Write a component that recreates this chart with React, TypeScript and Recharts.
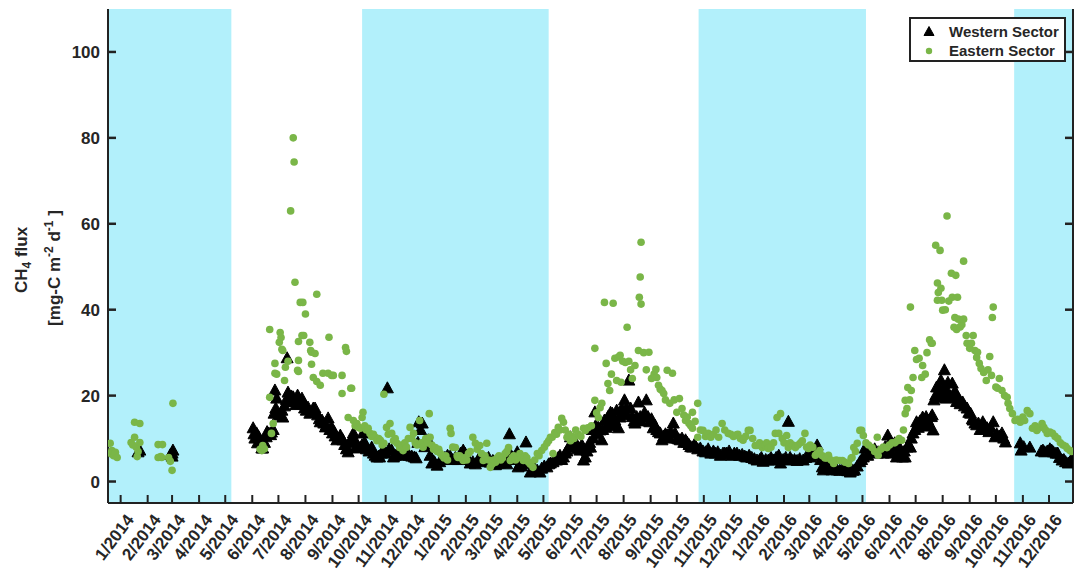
import React from "react";
import {
  ScatterChart,
  Scatter,
  XAxis,
  YAxis,
  ReferenceArea,
  Legend,
} from "recharts";

// day index = days since 1 Jan 2014
const dayIndex = (y: number, m: number, d: number) =>
  Math.round((Date.UTC(y, m - 1, d) - Date.UTC(2014, 0, 1)) / 86400000);

const tickYears = [2014, 2015, 2016];
const tickMonths = [1, 2, 3, 4, 5, 6, 7, 8, 9, 10, 11, 12];
const monthTickDays = tickYears.flatMap((y) => tickMonths.map((m) => dayIndex(y, m, 1)));
const monthTickLabels = tickYears.flatMap((y) => tickMonths.map((m) => `${m}/${y}`));
const fluxTicks = [0, 20, 40, 60, 80, 100];

const xDomain: [number, number] = [-14.5, 1092.5];
const yDomain: [number, number] = [-5, 110];

// frozen (cyan) periods
const winterStart = [-14.5, dayIndex(2014, 10, 5), dayIndex(2015, 10, 26), dayIndex(2016, 10, 22)];
const winterEnd = [dayIndex(2014, 5, 8), dayIndex(2015, 5, 7), dayIndex(2016, 5, 5), 1092.5];

// Western sector [day, flux]
const westernWinter2014: [number, number][] = [
  [20, 6.8], [22, 7.2], [57, 6.2], [59, 6.5], [59, 5.8], [60, 7.2],
];
const westernSummer2014: [number, number][] = [
  [152, 12.4], [153, 11], [154, 10], [156, 11.2], [157, 8.9], [158, 10.5], [160, 9.5], [162, 7.7],
  [163, 7.7], [165, 9], [167, 10.3], [168, 11.5], [170, 11.2], [172, 10.8], [173, 11.4], [175, 12],
  [176, 15.8], [177, 21.2], [178, 17], [179, 19.3], [181, 15.4], [183, 15.4], [185, 16.5], [186, 14.9],
  [188, 17.5], [190, 19], [191, 28.7], [192, 20.7], [194, 18.5], [196, 19.8], [198, 19.6], [200, 18.5],
  [201, 17.8], [203, 20], [205, 19], [206, 18], [208, 19.3], [210, 18], [211, 17], [213, 16.5],
  [215, 17.2], [217, 15.8], [219, 16], [221, 17], [223, 17], [224, 16], [226, 15.4], [228, 14.5],
  [229, 13.8], [231, 14.2], [233, 13.5], [235, 12.6], [236, 13], [238, 14.7], [240, 12], [242, 12.6],
  [243, 11.2], [245, 11.5], [246, 10.5], [248, 9.6], [250, 10], [252, 10.7], [254, 9.8], [255, 9.6],
  [257, 8.5], [259, 7.5], [260, 7.7], [261, 6.8], [263, 9], [265, 10], [267, 11.2], [269, 9.5],
  [270, 8], [272, 7.7],
];
const westernWinter2015: [number, number][] = [
  [275, 7.9], [277, 8.5], [278, 11.2], [280, 9], [282, 7.5], [285, 7], [288, 7.9], [290, 6.5],
  [292, 6], [294, 5.6], [296, 5.8], [297, 5.6], [299, 6.5], [301, 7], [304, 6.5], [306, 21.7],
  [308, 7.5], [311, 7.2], [313, 5.6], [315, 6], [318, 6.5], [320, 6.8], [323, 6], [325, 6.2],
  [328, 6.5], [331, 6], [334, 5.8], [337, 5.6], [339, 5.4], [341, 9], [342, 13.8], [344, 12],
  [346, 13.5], [349, 8], [351, 8.5], [353, 9.6], [355, 6], [357, 4.2], [360, 4.5], [363, 3.7],
  [366, 4.5], [369, 5], [372, 5.5], [375, 6], [378, 5.8], [381, 5], [384, 5.5], [387, 5],
  [390, 6.5], [393, 7.2], [395, 6.5], [397, 5.6], [399, 5], [401, 4.2], [404, 4.5], [407, 4],
  [410, 5], [413, 5.5], [416, 4.8], [419, 4.5], [422, 5.5], [424, 4.4], [427, 4.8], [430, 3.8],
  [433, 4.2], [435, 4.2], [438, 4.5], [441, 5], [443, 4], [446, 11], [448, 6], [450, 5.5],
  [453, 5], [455, 6.8], [456, 3.3], [458, 4], [460, 3.5], [462, 5], [465, 9.1], [467, 4],
  [470, 2.1], [472, 2.5], [475, 3], [478, 2.5], [481, 2.1], [483, 3], [486, 3.5], [489, 3.3],
  [491, 4], [493, 4.2],
];
const westernSummer2015: [number, number][] = [
  [496, 4.5], [498, 5], [500, 4.9], [502, 5.5], [504, 6], [506, 5], [508, 5.6], [510, 6.5],
  [512, 7], [514, 8], [516, 10.3], [518, 7.9], [520, 8.5], [522, 9], [524, 7.5], [527, 7.2],
  [529, 8.5], [531, 4.9], [533, 5.6], [535, 7], [536, 7.9], [538, 9], [539, 7.9], [541, 12],
  [542, 10], [544, 16.1], [545, 13], [547, 11], [548, 12.5], [550, 11.9], [552, 9.6], [553, 12],
  [555, 14.2], [557, 12.5], [559, 15], [561, 13], [562, 16], [564, 15.8], [566, 13], [567, 14.2],
  [569, 16.5], [571, 12.4], [573, 14.9], [575, 17], [576, 16], [578, 18.9], [580, 17], [581, 15.5],
  [583, 23.5], [585, 17], [587, 15], [589, 14], [590, 13.5], [592, 15], [594, 18.4], [596, 15],
  [597, 14], [599, 14.9], [601, 16], [603, 18.9], [605, 15], [607, 13.8], [609, 14.5], [611, 12.4],
  [613, 13], [615, 12], [617, 11.5], [619, 11.2], [621, 9.6], [623, 10.5], [625, 11], [627, 10.7],
  [629, 10], [631, 11.5], [634, 13.5], [636, 11.2], [638, 10], [640, 9.8], [642, 9.6], [644, 10],
  [646, 9], [648, 9.6], [650, 9], [652, 8.5], [654, 8], [656, 7.9], [658, 8.5], [660, 8],
  [662, 7.5], [665, 7.7],
];
const westernWinter2016: [number, number][] = [
  [668, 7], [671, 6.8], [674, 7.5], [677, 6.5], [680, 7], [682, 6.5], [685, 6.8], [688, 6],
  [691, 6.5], [693, 6.5], [695, 6.5], [698, 7], [701, 6], [704, 6.5], [707, 6.5], [710, 6],
  [713, 6.2], [716, 5.8], [718, 5.6], [721, 6], [724, 5.5], [727, 5.2], [730, 4.9], [733, 5],
  [735, 5.5], [737, 4.6], [740, 5], [743, 4.9], [746, 5.5], [749, 4.9], [752, 5.5], [755, 6],
  [757, 4.2], [760, 5], [763, 5.5], [766, 13.9], [768, 5.5], [770, 4.9], [773, 5], [776, 4.8],
  [779, 5.2], [783, 4.9], [786, 5.5], [789, 6], [791, 5.6], [794, 6.5], [797, 7.5], [799, 8.4],
  [801, 6], [803, 5], [805, 3.3], [806, 2.6], [808, 4], [810, 3.5], [812, 3], [814, 2.8],
  [816, 2.6], [819, 2.8], [822, 2.6], [825, 2.5], [828, 2.7], [831, 2.6], [834, 2.4], [837, 2.1],
  [840, 2.5], [842, 2.6], [845, 3.5], [848, 4.5], [850, 5], [852, 5.6], [854, 7.7], [857, 6],
  [860, 7.2], [863, 6.8], [865, 7.5], [868, 6.5], [869, 6.8],
];
const westernSummer2016: [number, number][] = [
  [872, 7], [875, 6.5], [877, 8], [879, 7.5], [880, 10.7], [882, 9], [884, 6.5], [886, 8],
  [888, 8.9], [890, 5.6], [892, 6.5], [894, 7.7], [896, 6], [897, 5.6], [899, 7], [900, 5.6],
  [902, 7.9], [904, 8.5], [906, 7.9], [907, 10], [909, 11.2], [911, 12], [913, 13.8], [915, 12.5],
  [917, 14], [919, 13], [920, 14.9], [922, 13.5], [924, 15], [926, 14.2], [928, 12.8], [930, 15],
  [931, 15.4], [932, 11.9], [933, 18.9], [935, 20], [936, 21.9], [938, 19.5], [939, 22], [941, 23.5],
  [943, 20], [944, 21.5], [945, 25.9], [946, 21.9], [947, 19.3], [949, 23], [950, 19.6], [952, 19.6],
  [954, 22.8], [956, 20], [957, 21], [959, 18.5], [961, 19.3], [963, 18], [964, 18.4], [966, 18.4],
  [968, 17.5], [971, 17], [973, 16], [975, 15.8], [977, 14.5], [978, 14.2], [980, 13.5], [982, 13.1],
  [984, 13.5], [986, 12], [989, 13.8], [991, 13], [994, 12.4], [996, 11.5], [998, 12.5], [1001, 13.8],
  [1003, 10.3], [1005, 11], [1008, 10.5], [1011, 11.2], [1013, 10], [1015, 9.1], [1032, 8.9], [1033, 7.2],
  [1036, 8], [1043, 7.9], [1056, 7], [1058, 7.2], [1060, 6.8], [1063, 7], [1066, 7.5], [1068, 7.2],
  [1070, 6.8], [1073, 6.5], [1075, 6.5], [1077, 5.5], [1080, 4.9], [1082, 5], [1084, 4.5], [1087, 4.2],
  [1089, 4.5], [1091, 5],
];

// Eastern sector [day, flux]
const easternWinter2014: [number, number][] = [
  [-12, 8.9], [-11, 6.5], [-10, 7.2], [-8, 6], [-6, 6.8], [-4, 5.6], [12, 9.1], [14, 8.5],
  [16, 10.3], [16, 13.8], [18, 8], [19, 5.8], [20, 7], [22, 9.1], [22, 13.5], [43, 8.6],
  [48, 8.6], [43, 5.6], [46, 5.8], [47, 5.6], [55, 5.6], [57, 4.7], [59, 2.6], [60, 18.2],
];
const easternSummer2014: [number, number][] = [
  [160, 7.5], [162, 7.2], [163, 8.4], [165, 7.6], [171, 19.6], [171, 35.4], [173, 11.2], [175, 13.5],
  [177, 27.5], [177, 25.2], [179, 25], [182, 32.4], [183, 34.7], [184, 33.5], [185, 30.8], [186, 30.5],
  [188, 23.5], [189, 26.6], [192, 28], [195, 63], [198, 80], [199, 74.4], [200, 46.4], [203, 25.9],
  [204, 28.2], [204, 32.6], [204, 25.6], [206, 41.7], [208, 34], [209, 41.7], [210, 34], [212, 39],
  [217, 32.4], [218, 30.5], [219, 27.3], [219, 30.1], [221, 24.2], [223, 29.8], [225, 23.3], [225, 43.6],
  [229, 22.4], [232, 25.2], [238, 25.2], [239, 33.6], [242, 24.7], [244, 24.7], [254, 24.7], [254, 20.5],
  [258, 31.2], [259, 30.3], [261, 14.9], [264, 21.7], [265, 21.7], [267, 14.2], [269, 13], [271, 13.5],
];
const easternWinter2015: [number, number][] = [
  [273, 12.6], [275, 12.4], [277, 14.9], [278, 16.1], [280, 13], [282, 12], [284, 12.4], [286, 11.2],
  [288, 10.5], [290, 11], [292, 10.3], [294, 9.5], [296, 10], [298, 9.6], [300, 8.5], [302, 20.3],
  [302, 8.9], [305, 12.6], [307, 11], [309, 13.5], [311, 11.2], [313, 9.5], [315, 10], [317, 8.9],
  [320, 7.9], [322, 8.5], [324, 7.2], [326, 9], [328, 8], [330, 10], [332, 12.6], [334, 10],
  [336, 11.2], [338, 9], [340, 8.5], [343, 14.2], [345, 9], [347, 8], [350, 10], [352, 9],
  [354, 15.8], [355, 10.3], [357, 8.5], [359, 7.5], [361, 7.9], [363, 7], [365, 7.5], [367, 6.5],
  [369, 6], [371, 5.5], [373, 6], [375, 5], [378, 12.4], [379, 11.2], [381, 8], [384, 7.9],
  [386, 6], [387, 5.6], [389, 6], [391, 5.5], [393, 4.9], [395, 5.5], [397, 5], [399, 6.5],
  [401, 7], [404, 10.3], [407, 8.9], [409, 7.5], [412, 8.4], [414, 6.5], [416, 4.9], [418, 6],
  [420, 8.9], [422, 5], [424, 3.3], [426, 4], [428, 5], [430, 4.5], [432, 5.5], [434, 6],
  [436, 5], [438, 5.5], [441, 6.5], [443, 7], [445, 7.9], [447, 4.9], [449, 5.5], [451, 6],
  [453, 5], [456, 5.6], [458, 6.5], [460, 5.5], [462, 4.9], [464, 6], [466, 5.5], [468, 4.5],
  [470, 4], [473, 3.3], [475, 5], [478, 6.5], [480, 6], [483, 7.2], [486, 8], [489, 8.9],
  [491, 9.5], [493, 10.3], [495, 10.3], [496, 6.5], [498, 11.4], [500, 11], [502, 12.6], [504, 12],
  [506, 14.7], [508, 13.8],
];
const easternSummer2015: [number, number][] = [
  [510, 12], [512, 10.3], [514, 11], [516, 9.5], [518, 10.5], [520, 10], [522, 12], [525, 11],
  [528, 10.5], [531, 12.4], [533, 11.9], [536, 12.5], [540, 13], [544, 31], [544, 18.9], [546, 16],
  [548, 14.9], [550, 17.2], [552, 18.2], [555, 41.7], [557, 27.5], [559, 22.8], [561, 21.2], [563, 25],
  [565, 41.5], [567, 28.7], [569, 23.5], [571, 29], [573, 29.4], [574, 23.1], [576, 28], [579, 27.7],
  [581, 35.9], [583, 28], [585, 26], [587, 24], [590, 27], [594, 30.5], [595, 42.9], [596, 47.6],
  [597, 55.7], [597, 41.3], [600, 30], [603, 26], [606, 30.1], [609, 24], [612, 25], [614, 26.1],
  [615, 24.2], [617, 22.4], [619, 21.5], [621, 21.2], [623, 20.5], [625, 19], [627, 25.9], [630, 18.2],
  [633, 25.2], [635, 19], [638, 16.1], [641, 19.3], [644, 17], [646, 15.5], [648, 14.2], [650, 15],
  [652, 13.5], [654, 13], [656, 16.1], [656, 12.4], [659, 14], [662, 18.2], [662, 10.3], [665, 12],
];
const easternWinter2016: [number, number][] = [
  [668, 11.9], [671, 10.5], [674, 11.2], [677, 10.3], [680, 11], [683, 12], [686, 10.3], [690, 13.5],
  [693, 12], [697, 11.2], [700, 11], [703, 10.5], [706, 10.8], [708, 11], [711, 10], [714, 9.6],
  [717, 10.5], [720, 11.9], [722, 11.9], [725, 10], [728, 8.4], [730, 8.4], [733, 9], [736, 7.9],
  [739, 8.5], [741, 9], [743, 7.7], [746, 8], [749, 9], [751, 11.2], [753, 14.9], [755, 11.2],
  [757, 15.8], [759, 10], [761, 9], [764, 10.7], [766, 7.9], [768, 9], [771, 8.5], [774, 7.9],
  [777, 8.5], [780, 9], [782, 9.5], [785, 11.2], [787, 8], [789, 7.7], [791, 8.5], [794, 8],
  [797, 6.1], [799, 6.5], [802, 7.2], [805, 6], [808, 5.5], [810, 5.5], [812, 6.1], [815, 5],
  [818, 4.2], [821, 5], [825, 4.9], [828, 4.9], [831, 4.5], [835, 4.2], [838, 5.4], [839, 5.6],
  [841, 7.9], [843, 7], [845, 8.9], [848, 11.9], [850, 11.9], [852, 10.7], [855, 9], [858, 8.5],
  [862, 7.9], [865, 7], [868, 10.3], [869, 6.1],
];
const easternSummer2016: [number, number][] = [
  [872, 7.5], [875, 8], [879, 7.9], [882, 8.5], [885, 9], [888, 9], [891, 9.5], [893, 10],
  [896, 9.6], [898, 12], [900, 15.8], [900, 18.9], [902, 17], [903, 21.9], [905, 19], [906, 40.6],
  [907, 21.2], [909, 24.2], [911, 30.5], [913, 28.4], [916, 28.7], [919, 24.2], [920, 27], [923, 25],
  [925, 30], [928, 33], [930, 32.2], [931, 32.2], [935, 55], [937, 46.2], [937, 42.2], [938, 44],
  [940, 53.8], [941, 45], [942, 42.2], [943, 39.9], [946, 40], [948, 61.8], [950, 42], [953, 48.5],
  [954, 42.9], [956, 35.9], [957, 38.2], [958, 48], [959, 35.4], [960, 42.9], [961, 37.8], [963, 36],
  [965, 36.5], [967, 37.8], [967, 51.3], [970, 34], [971, 32.2], [974, 31], [976, 32.2], [978, 34],
  [980, 30.5], [982, 28.9], [983, 30.1], [985, 27.5], [987, 26.3], [990, 25.4], [993, 23.5], [995, 26],
  [997, 29.1], [999, 24.7], [1000, 38.2], [1001, 40.6], [1004, 22], [1006, 21.7], [1008, 24], [1011, 21.2],
  [1014, 20], [1017, 19.6], [1018, 18.2], [1020, 17], [1023, 15.8], [1026, 14.2], [1029, 14.5], [1032, 13.8],
  [1035, 15], [1037, 14.2], [1040, 16.5], [1043, 15.8], [1046, 12.4], [1049, 13], [1051, 11.9], [1054, 12.5],
  [1057, 13.5], [1059, 12.6], [1061, 12], [1063, 11.2], [1066, 11.5], [1069, 11.2], [1072, 10.5], [1075, 10],
  [1078, 9], [1081, 8.5], [1084, 8.2], [1086, 7.7], [1089, 7.2], [1091, 7],
];

const toPoints = (rows: [number, number][]) => rows.map(([day, flux]) => ({ day, flux }));

const westernPoints = [
  westernWinter2014, westernSummer2014, westernWinter2015, westernSummer2015, westernWinter2016, westernSummer2016,
].flatMap(toPoints);
const easternPoints = [
  easternWinter2014, easternSummer2014, easternWinter2015, easternSummer2015, easternWinter2016, easternSummer2016,
].flatMap(toPoints);

const FONT = "'Liberation Sans', Arial, Helvetica, sans-serif";
const AXIS = "#222";
const TEXT = "#262626";
const GREEN = "#7ab648";
const CYAN = "#b2f0fb";

const Triangle = ({ cx, cy }: any) => (
  <path
    d={`M${cx},${cy - 6.5}L${cx + 6},${cy + 4.5}L${cx - 6},${cy + 4.5}Z`}
    fill="#000"
    stroke="#000"
    strokeWidth={1}
  />
);

const Dot = ({ cx, cy }: any) => <circle cx={cx} cy={cy} r={3.8} fill={GREEN} />;

const BottomTick = ({ x, y, payload }: any) => {
  const i = monthTickDays.indexOf(payload.value);
  return (
    <g>
      <line x1={x} x2={x} y1={y} y2={y - 8} stroke={AXIS} strokeWidth={2} />
      <text
        transform={`translate(${x + 14},${y + 17}) rotate(-53)`}
        textAnchor="end"
        fontFamily={FONT}
        fontWeight="bold"
        fontSize={17}
        fill={TEXT}
      >
        {monthTickLabels[i]}
      </text>
    </g>
  );
};

const TopTick = ({ x, y }: any) => (
  <line x1={x} x2={x} y1={y} y2={y + 8} stroke={AXIS} strokeWidth={2} />
);

const LeftTick = ({ x, y, payload }: any) => (
  <g>
    <line x1={x} x2={x + 8} y1={y} y2={y} stroke={AXIS} strokeWidth={2.5} />
    <text
      x={x - 8}
      y={y}
      dy="0.36em"
      textAnchor="end"
      fontFamily={FONT}
      fontWeight="bold"
      fontSize={17}
      fill={TEXT}
    >
      {payload.value}
    </text>
  </g>
);

const RightTick = ({ x, y }: any) => (
  <line x1={x} x2={x - 8} y1={y} y2={y} stroke={AXIS} strokeWidth={2.5} />
);

const YLabel = ({ viewBox }: any) => {
  const x0 = viewBox.x;
  return (
    <g fontFamily={FONT} fontWeight="bold" fontSize={17} fill={TEXT}>
      <text transform={`translate(${x0 + 27},260) rotate(-90)`} textAnchor="middle">
        CH<tspan fontSize={12} dy={4}>4</tspan>
        <tspan dy={-4}> flux</tspan>
      </text>
      <text transform={`translate(${x0 + 60},268) rotate(-90)`} textAnchor="middle">
        [mg-C m<tspan fontSize={12} dy={-7}>-2</tspan>
        <tspan dy={7}> d</tspan>
        <tspan fontSize={12} dy={-7}>-1</tspan>
        <tspan dy={7}> ]</tspan>
      </text>
    </g>
  );
};

const LegendBox = () => (
  <div
    style={{
      boxSizing: "border-box",
      width: 157,
      height: 45,
      border: `2px solid ${AXIS}`,
      background: "#fff",
      paddingTop: 3,
      fontFamily: FONT,
      fontWeight: "bold",
      fontSize: 15,
      color: TEXT,
    }}
  >
    {[
      { name: "Western Sector", tri: true },
      { name: "Eastern Sector", tri: false },
    ].map((row) => (
      <div key={row.name} style={{ display: "flex", alignItems: "center", height: 19 }}>
        <svg width={38} height={14} style={{ flex: "none" }}>
          {row.tri ? (
            <path d="M18,1.5L23,10.5L13,10.5Z" fill="#000" stroke="#000" />
          ) : (
            <circle cx={18} cy={7} r={3.2} fill={GREEN} />
          )}
        </svg>
        <span style={{ whiteSpace: "nowrap" }}>{row.name}</span>
      </div>
    ))}
  </div>
);

export default function App() {
  return (
    <div style={{ position: "absolute", left: 0, top: 0, width: 1075, height: 571, background: "#fff" }}>
      <ScatterChart width={1075} height={571} margin={{ top: 9, right: 0, bottom: 0, left: 0 }}>
        <XAxis
          xAxisId="bottom"
          type="number"
          dataKey="day"
          domain={xDomain}
          ticks={monthTickDays}
          interval={0}
          height={68}
          tickSize={0}
          tickMargin={0}
          tick={<BottomTick />}
          axisLine={{ stroke: AXIS, strokeWidth: 2 }}
          allowDataOverflow
        />
        <XAxis
          xAxisId="top"
          orientation="top"
          type="number"
          dataKey="day"
          domain={xDomain}
          ticks={monthTickDays}
          interval={0}
          height={0}
          tickSize={0}
          tickMargin={0}
          tick={<TopTick />}
          axisLine={{ stroke: AXIS, strokeWidth: 2 }}
          allowDataOverflow
        />
        <YAxis
          yAxisId="left"
          type="number"
          dataKey="flux"
          domain={yDomain}
          ticks={fluxTicks}
          interval={0}
          width={108}
          tickSize={0}
          tickMargin={0}
          tick={<LeftTick />}
          axisLine={{ stroke: AXIS, strokeWidth: 2 }}
          label={<YLabel />}
          allowDataOverflow
        />
        <YAxis
          yAxisId="right"
          orientation="right"
          type="number"
          dataKey="flux"
          domain={yDomain}
          ticks={fluxTicks}
          interval={0}
          width={2}
          tickSize={0}
          tickMargin={0}
          tick={<RightTick />}
          axisLine={{ stroke: AXIS, strokeWidth: 2 }}
          allowDataOverflow
        />
        {winterStart.map((start, i) => (
          <ReferenceArea
            key={start}
            xAxisId="bottom"
            yAxisId="left"
            x1={start}
            x2={winterEnd[i]}
            y1={yDomain[0]}
            y2={yDomain[1]}
            fill={CYAN}
            fillOpacity={1}
            stroke="none"
            ifOverflow="hidden"
          />
        ))}
        <Scatter
          name="Western Sector"
          xAxisId="bottom"
          yAxisId="left"
          data={westernPoints}
          shape={<Triangle />}
          isAnimationActive={false}
        />
        <Scatter
          name="Eastern Sector"
          xAxisId="bottom"
          yAxisId="left"
          data={easternPoints}
          shape={<Dot />}
          isAnimationActive={false}
        />
        <Legend
          layout="vertical"
          align="center"
          verticalAlign="middle"
          wrapperStyle={{ top: 17, left: 909, width: 157, height: 45 }}
          content={<LegendBox />}
        />
      </ScatterChart>
    </div>
  );
}
